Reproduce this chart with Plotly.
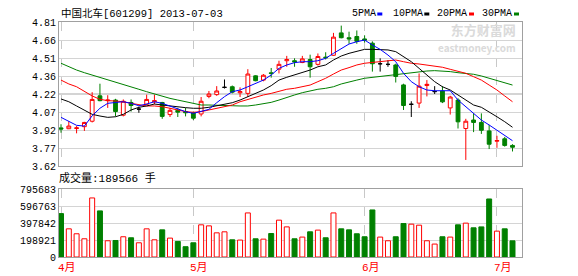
import plotly.graph_objects as go

# ---------------- data ----------------
month_labels = ["4月", "5月", "6月", "7月"]
month_idx = [0, 17, 39, 56]

opens = [3.935, 3.928, 3.930, 3.945, 3.990, 4.200, 4.160, 4.165, 4.040, 4.145,
         4.090, 4.130, 4.150, 4.145, 4.045, 4.080, 4.070, 4.060, 4.050, 4.195,
         4.210, 4.270, 4.275, 4.225, 4.220, 4.365, 4.330, 4.390, 4.420, 4.490,
         4.490, 4.475, 4.500, 4.460, 4.520, 4.535, 4.720, 4.680, 4.690, 4.670,
         4.635, 4.465, 4.460, 4.455, 4.290, 4.130, 4.140, 4.285, 4.235, 4.240,
         4.100, 4.165, 3.930, 4.000, 3.980, 3.910, 3.825, 3.845, 3.790]
highs = [3.965, 3.990, 3.950, 3.985, 4.230, 4.300, 4.205, 4.175, 4.170, 4.170,
         4.110, 4.210, 4.210, 4.150, 4.100, 4.100, 4.100, 4.070, 4.190, 4.240,
         4.280, 4.335, 4.285, 4.270, 4.420, 4.370, 4.380, 4.430, 4.490, 4.530,
         4.510, 4.530, 4.540, 4.550, 4.560, 4.720, 4.780, 4.730, 4.740, 4.700,
         4.650, 4.510, 4.495, 4.465, 4.300, 4.155, 4.385, 4.330, 4.280, 4.280,
         4.200, 4.180, 4.010, 4.055, 4.055, 3.960, 3.870, 3.860, 3.800]
lows = [3.895, 3.925, 3.890, 3.910, 3.980, 4.155, 4.100, 4.030, 4.030, 4.070,
        4.060, 4.125, 4.130, 4.010, 4.025, 4.025, 4.030, 4.000, 4.030, 4.180,
        4.200, 4.260, 4.220, 4.190, 4.190, 4.320, 4.320, 4.350, 4.385, 4.440,
        4.440, 4.470, 4.350, 4.450, 4.500, 4.530, 4.675, 4.630, 4.630, 4.640,
        4.400, 4.400, 4.440, 4.310, 4.083, 4.025, 4.100, 4.195, 4.215, 4.140,
        4.045, 3.930, 3.670, 3.900, 3.885, 3.760, 3.770, 3.780, 3.740]
closes = [3.925, 3.950, 3.935, 3.980, 4.170, 4.160, 4.165, 4.070, 4.155, 4.120,
          4.090, 4.170, 4.160, 4.030, 4.080, 4.065, 4.060, 4.015, 4.155, 4.215,
          4.240, 4.270, 4.230, 4.235, 4.380, 4.325, 4.370, 4.385, 4.460, 4.500,
          4.480, 4.505, 4.440, 4.525, 4.515, 4.685, 4.680, 4.670, 4.650, 4.660,
          4.465, 4.465, 4.460, 4.360, 4.120, 4.130, 4.280, 4.295, 4.235, 4.150,
          4.190, 3.985, 3.990, 3.980, 3.915, 3.800, 3.830, 3.790, 3.775]

ma5 = [4.022, 3.986, 3.956, 3.950, 4.035, 4.097, 4.138, 4.145, 4.151, 4.138,
       4.118, 4.132, 4.151, 4.138, 4.116, 4.088, 4.069, 4.055, 4.069, 4.088,
       4.143, 4.193, 4.234, 4.248, 4.275, 4.303, 4.330, 4.372, 4.427, 4.455,
       4.474, 4.482, 4.482, 4.490, 4.510, 4.551, 4.593, 4.628, 4.647, 4.661,
       4.620, 4.584, 4.537, 4.482, 4.386, 4.317, 4.275, 4.248, 4.242, 4.240,
       4.242, 4.165, 4.110, 4.055, 4.000, 3.959, 3.918, 3.876, 3.829]
ma10 = [4.174, 4.151, 4.116, 4.083, 4.047, 4.033, 4.022, 4.027, 4.047, 4.083,
        4.105, 4.116, 4.132, 4.124, 4.116, 4.105, 4.102, 4.097, 4.097, 4.105,
        4.116, 4.130, 4.143, 4.165, 4.193, 4.220, 4.248, 4.284, 4.330, 4.353,
        4.372, 4.391, 4.413, 4.440, 4.455, 4.496, 4.529, 4.551, 4.565, 4.584,
        4.584, 4.584, 4.579, 4.565, 4.523, 4.482, 4.427, 4.372, 4.317, 4.275,
        4.248, 4.207, 4.165, 4.124, 4.105, 4.069, 4.027, 3.986, 3.940]
ma20 = [4.330, 4.298, 4.275, 4.234, 4.199, 4.171, 4.160, 4.157, 4.151, 4.138,
        4.124, 4.116, 4.116, 4.110, 4.097, 4.083, 4.069, 4.064, 4.069, 4.083,
        4.097, 4.116, 4.124, 4.151, 4.171, 4.188, 4.207, 4.220, 4.240, 4.254,
        4.262, 4.275, 4.289, 4.317, 4.345, 4.380, 4.413, 4.433, 4.455, 4.469,
        4.477, 4.482, 4.490, 4.496, 4.482, 4.469, 4.463, 4.455, 4.446, 4.436,
        4.419, 4.400, 4.386, 4.358, 4.330, 4.289, 4.248, 4.199, 4.151]
ma30 = [4.469, 4.440, 4.413, 4.391, 4.372, 4.353, 4.336, 4.317, 4.298, 4.275,
        4.254, 4.234, 4.215, 4.199, 4.179, 4.165, 4.151, 4.138, 4.124, 4.124,
        4.124, 4.124, 4.118, 4.116, 4.116, 4.124, 4.132, 4.146, 4.165, 4.188,
        4.207, 4.226, 4.242, 4.254, 4.262, 4.275, 4.298, 4.317, 4.330, 4.345,
        4.353, 4.358, 4.366, 4.378, 4.386, 4.394, 4.400, 4.405, 4.408, 4.405,
        4.400, 4.391, 4.386, 4.378, 4.364, 4.345, 4.330, 4.309, 4.289]

volumes = [510000, 331000, 273000, 214000, 694000, 542000, 191000, 194000, 238000, 226000,
           167000, 331000, 202000, 319000, 222000, 183000, 121000, 167000, 378000, 366000,
           284000, 296000, 202000, 199000, 518000, 214000, 210000, 276000, 433000, 354000,
           214000, 234000, 296000, 316000, 226000, 518000, 331000, 319000, 273000, 238000,
           553000, 234000, 191000, 238000, 393000, 386000, 374000, 191000, 152000, 238000,
           234000, 378000, 398000, 343000, 354000, 682000, 304000, 331000, 189566]

price_ticks = [3.62, 3.77, 3.92, 4.07, 4.22, 4.36, 4.51, 4.66, 4.81]
vol_ticks = [0, 198921, 397842, 596763, 795683]

title_text = "中国北车[601299] 2013-07-03"
volume_text = "成交量:189566 手"
ma_names = ["5PMA", "10PMA", "20PMA", "30PMA"]
watermark_cn = "东方财富网"
watermark_en = "eastmoney.com"

# ---------------- styling ----------------
RED = "#ff0000"
GREEN = "#008000"
BLUE = "#0000ff"
BLACK = "#000000"
GRID = "#d4d4d4"
BORDER = "#a0a0a0"
MONO = "Liberation Mono, Noto Sans CJK SC, monospace"

W, H = 578, 276
L, R, T, B = 59, 56, 22, 19
PW, PH = W - L - R, H - T - B


def px(x):
    return (x - L) / PW


def py(y):
    return (H - B - y) / PH


n = len(closes)
xs = list(range(n))
up = [i for i in xs if closes[i] > opens[i]]
dn = [i for i in xs if closes[i] < opens[i]]
fl = [i for i in xs if closes[i] == opens[i]]

fig = go.Figure()


def candle(idx, line_col, fill_col):
    return go.Candlestick(
        x=idx,
        open=[opens[i] for i in idx], high=[highs[i] for i in idx],
        low=[lows[i] for i in idx], close=[closes[i] for i in idx],
        increasing=dict(line=dict(color=line_col, width=1), fillcolor=fill_col),
        decreasing=dict(line=dict(color=line_col, width=1), fillcolor=fill_col),
        whiskerwidth=0, showlegend=False, xaxis="x", yaxis="y",
    )


fig.add_trace(candle(up, RED, "#ffffff"))
fig.add_trace(candle(dn, GREEN, GREEN))
fig.add_trace(candle(fl, BLACK, BLACK))

for vals, col in [(ma30, GREEN), (ma20, RED), (ma10, BLACK), (ma5, BLUE)]:
    fig.add_trace(go.Scatter(x=xs, y=vals, mode="lines", line=dict(color=col, width=1),
                             showlegend=False, xaxis="x", yaxis="y", hoverinfo="skip"))

vol_fill = ["#ffffff" if closes[i] >= opens[i] else GREEN for i in xs]
vol_line = [RED if closes[i] >= opens[i] else GREEN for i in xs]
fig.add_trace(go.Bar(x=xs, y=volumes, width=0.64,
                     marker=dict(color=vol_fill, line=dict(color=vol_line, width=1)),
                     showlegend=False, xaxis="x2", yaxis="y2"))

xr = [-0.26, 59.22]
axis_common = dict(showline=True, mirror=True, linecolor=BORDER, linewidth=1,
                   zeroline=False)
fig.update_layout(
    width=W, height=H,
    margin=dict(l=L, r=R, t=T, b=B),
    paper_bgcolor="#ffffff", plot_bgcolor="#ffffff",
    font=dict(family=MONO, size=10, color="#000000"),
    xaxis=dict(domain=[0, 1], range=xr, tickvals=month_idx, showticklabels=False,
               showgrid=True, gridcolor="#c8c8c8", griddash="dash", ticks="",
               rangeslider=dict(visible=False), anchor="y", **axis_common),
    yaxis=dict(domain=[py(166), 1], range=[price_ticks[0], price_ticks[-1]],
               tickvals=[price_ticks[0] + k * (price_ticks[-1] - price_ticks[0]) / 8 for k in range(9)],
               ticktext=["%.2f" % v for v in price_ticks],
               showgrid=True, gridcolor=GRID, ticks="", anchor="x", **axis_common),
    xaxis2=dict(domain=[0, 1], range=xr, tickvals=month_idx, showticklabels=False,
                showgrid=True, gridcolor="#c8c8c8", griddash="dash", ticks="",
                anchor="y2", matches="x", **axis_common),
    yaxis2=dict(domain=[0, py(189.3)], range=[0, vol_ticks[-1]], tickvals=vol_ticks,
                ticktext=[str(v) for v in vol_ticks],
                showgrid=True, gridcolor=GRID, ticks="", anchor="x2", **axis_common),
    bargap=0.3,
    hovermode=False,
)

# darker middle line in price panel
mid = price_ticks[0] + 4 * (price_ticks[-1] - price_ticks[0]) / 8
fig.add_shape(type="line", xref="paper", yref="y", x0=0, x1=1, y0=mid, y1=mid,
              line=dict(color="#a8a8a8", width=1), layer="below")

ann = []
ann.append(dict(text=title_text, x=px(60), y=py(14), xref="paper", yref="paper",
                xanchor="left", yanchor="middle", showarrow=False, borderpad=0,
                font=dict(family=MONO, size=10.5, color="#000000")))
ann.append(dict(text=volume_text, x=px(58), y=py(178), xref="paper", yref="paper",
                xanchor="left", yanchor="middle", showarrow=False, borderpad=0,
                font=dict(family=MONO, size=11, color="#000000")))

leg_x = [351.7, 392.7, 436.7, 481.7]
leg_sq = [377.3, 424.3, 469.0, 514.0]
leg_col = [BLUE, BLACK, RED, GREEN]
for name, lx, sx, col in zip(ma_names, leg_x, leg_sq, leg_col):
    ann.append(dict(text=name, x=px(lx - 1), y=py(14), xref="paper", yref="paper",
                    xanchor="left", yanchor="middle", showarrow=False, borderpad=0,
                    font=dict(family=MONO, size=10, color="#000000")))
    fig.add_shape(type="rect", xref="paper", yref="paper",
                  x0=px(sx), x1=px(sx + 5), y0=py(15.5), y1=py(12.5),
                  line=dict(width=0), fillcolor=col)

for lab, mi in zip(month_labels, month_idx):
    ann.append(dict(text=lab, x=mi, y=py(267.5), xref="x2", yref="paper",
                    xanchor="left", yanchor="middle", xshift=-4, showarrow=False,
                    borderpad=0, font=dict(family=MONO, size=11, color=RED)))

# watermark (single text block so lines don't collide)
ann.append(dict(text="<b>%s</b><br><b><span style='font-size:10px'>%s</span></b>"
                % (watermark_cn, watermark_en),
                x=px(517), y=py(37), xref="paper", yref="paper", align="right",
                xanchor="right", yanchor="middle", showarrow=False, borderpad=0,
                font=dict(family="Noto Sans CJK SC", size=13, color="#dadada")))

fig.update_layout(annotations=ann)

fig.write_html("out.html")
